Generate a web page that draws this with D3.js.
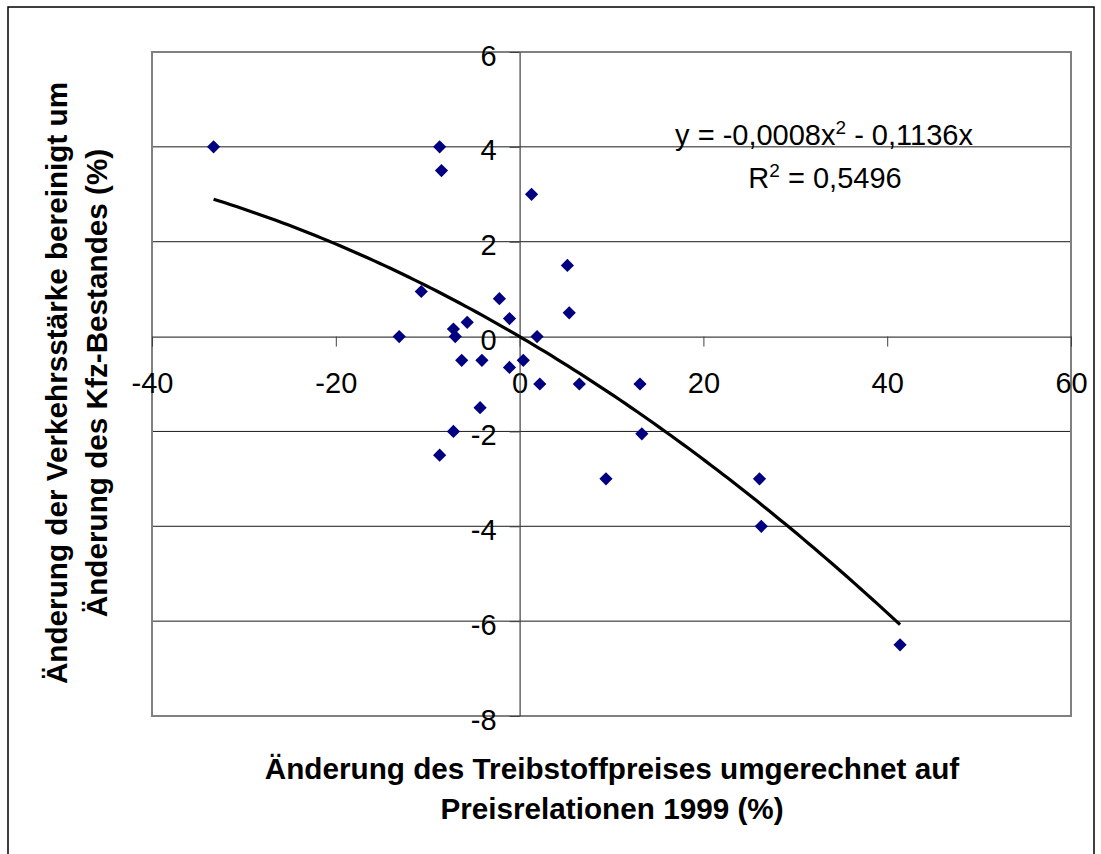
<!DOCTYPE html>
<html>
<head>
<meta charset="utf-8">
<script src="https://cdn.jsdelivr.net/npm/d3@7"></script>
<style>
  html, body { margin: 0; padding: 0; background: #fff; }
  svg { display: block; font-family: "Liberation Sans", Arial, sans-serif; }
</style>
</head>
<body>
<svg id="chart" width="1101" height="854"></svg>
<script>
// Price change of fuel (%) vs. change of traffic volume adjusted for vehicle stock (%)
const priceChange = [-33.3, -8.7, -8.5, 1.3, 5.2, -10.7, -2.2, 5.4, -1.1, -5.7,
                     -7.2, -13.1, -7.0, 1.9, -6.3, -4.1, 0.4, -1.1, 2.2, 6.5,
                     13.1, -4.3, -7.2, 13.3, -8.7, 9.4, 26.1, 26.3, 41.4];
const trafficChange = [4.0, 4.0, 3.5, 3.0, 1.5, 0.95, 0.8, 0.5, 0.38, 0.3,
                       0.16, 0.0, 0.0, 0.0, -0.5, -0.5, -0.5, -0.65, -1.0, -1.0,
                       -1.0, -1.5, -2.0, -2.05, -2.5, -3.0, -3.0, -4.0, -6.5];

// Polynomial trend line (order 2, through origin): y = a*x^2 + b*x
const trendA = -0.0008;
const trendB = -0.1136;
const trendR2 = "0,5496";

const xTicks = [-40, -20, 0, 20, 40, 60];
const yTicks = [-8, -6, -4, -2, 0, 2, 4, 6];

const xTitleLines = ["Änderung des Treibstoffpreises umgerechnet auf", "Preisrelationen 1999 (%)"];
const yTitleLines = ["Änderung der Verkehrsstärke bereinigt um", "Änderung des Kfz-Bestandes (%)"];

const svg = d3.select("#chart");
const plot = { left: 152, right: 1071, top: 52, bottom: 716 };

const x = d3.scaleLinear().domain([-40, 60]).range([plot.left, plot.right]);
const y = d3.scaleLinear().domain([-8, 6]).range([plot.bottom, plot.top]);

// outer chart frame
svg.append("rect")
  .attr("x", 8).attr("y", 7).attr("width", 1086).attr("height", 860)
  .attr("fill", "#fff").attr("stroke", "#000").attr("stroke-width", 1.5);

// horizontal gridlines
svg.append("g").selectAll("line").data(yTicks.filter(d => d !== -8 && d !== 6 && d !== 0))
  .join("line")
  .attr("x1", plot.left).attr("x2", plot.right)
  .attr("y1", d => y(d)).attr("y2", d => y(d))
  .attr("stroke", "#1a1a1a").attr("stroke-width", 1);

// plot-area border
svg.append("rect")
  .attr("x", plot.left).attr("y", plot.top)
  .attr("width", plot.right - plot.left).attr("height", plot.bottom - plot.top)
  .attr("fill", "none").attr("stroke", "#808080").attr("stroke-width", 2);

const fmt = d => String(d);

// x axis crossing at y = 0
const xAxis = svg.append("g")
  .attr("transform", `translate(0,${y(0)})`)
  .call(d3.axisBottom(x).tickValues(xTicks).tickSize(10).tickSizeOuter(0).tickFormat(fmt));
xAxis.select(".domain").attr("stroke", "#404040").attr("stroke-width", 1.2);
xAxis.selectAll(".tick line").attr("stroke", "#404040");
xAxis.selectAll(".tick text")
  .attr("y", 56).attr("dy", 0)
  .attr("font-size", 29).attr("font-family", "Liberation Sans, Arial, sans-serif")
  .attr("fill", "#000");

// y axis crossing at x = 0
const yAxis = svg.append("g")
  .attr("transform", `translate(${x(0)},0)`)
  .call(d3.axisLeft(y).tickValues(yTicks).tickSize(10).tickSizeOuter(0).tickFormat(fmt));
yAxis.select(".domain").attr("stroke", "#404040").attr("stroke-width", 1.2);
yAxis.selectAll(".tick line").attr("stroke", "#404040");
yAxis.selectAll(".tick text")
  .attr("x", -23).attr("y", 13).attr("dy", 0)
  .attr("font-size", 29).attr("font-family", "Liberation Sans, Arial, sans-serif")
  .attr("fill", "#000");

// data points (diamonds)
const points = priceChange.map((v, i) => ({ px: v, ty: trafficChange[i] }));
const r = 6.6;
svg.append("g").selectAll("path").data(points).join("path")
  .attr("d", d => {
    const cx = x(d.px), cy = y(d.ty);
    return `M${cx},${cy - r}L${cx + r},${cy}L${cx},${cy + r}L${cx - r},${cy}Z`;
  })
  .attr("fill", "#000080");

// trend line across the data range
const [xMin, xMax] = d3.extent(priceChange);
const trendPts = d3.range(0, 121).map(i => {
  const xv = xMin + (xMax - xMin) * i / 120;
  return [xv, trendA * xv * xv + trendB * xv];
});
svg.append("path")
  .datum(trendPts)
  .attr("d", d3.line().x(d => x(d[0])).y(d => y(d[1])))
  .attr("fill", "none").attr("stroke", "#000").attr("stroke-width", 3.2)
  .attr("stroke-linejoin", "round");

// equation label
const eq = svg.append("text")
  .attr("x", 824).attr("y", 145).attr("text-anchor", "middle")
  .attr("font-size", 29).attr("fill", "#000");
const fmtCoef = v => Math.abs(v).toFixed(4).replace(".", ",");
eq.append("tspan").text(`y = ${trendA < 0 ? "-" : ""}${fmtCoef(trendA)}x`);
eq.append("tspan").attr("dy", -11).attr("font-size", 19).text("2");
eq.append("tspan").attr("dy", 11).text(` ${trendB < 0 ? "-" : "+"} ${fmtCoef(trendB)}x`);

const r2 = svg.append("text")
  .attr("x", 825).attr("y", 188).attr("text-anchor", "middle")
  .attr("font-size", 29).attr("fill", "#000");
r2.append("tspan").text("R");
r2.append("tspan").attr("dy", -11).attr("font-size", 19).text("2");
r2.append("tspan").attr("dy", 11).text(` = ${trendR2}`);

// axis titles
const xTitle = svg.append("text")
  .attr("text-anchor", "middle").attr("font-size", 29.7).attr("font-weight", "bold").attr("fill", "#000");
xTitleLines.forEach((t, i) => {
  xTitle.append("tspan").attr("x", 612).attr("y", 779 + i * 40).text(t);
});

const yTitle = svg.append("text")
  .attr("transform", "translate(0,383) rotate(-90)")
  .attr("text-anchor", "middle").attr("font-size", 29.7).attr("font-weight", "bold").attr("fill", "#000");
yTitleLines.forEach((t, i) => {
  yTitle.append("tspan").attr("x", 0).attr("y", 67 + i * 40).text(t);
});
</script>
</body>
</html>
